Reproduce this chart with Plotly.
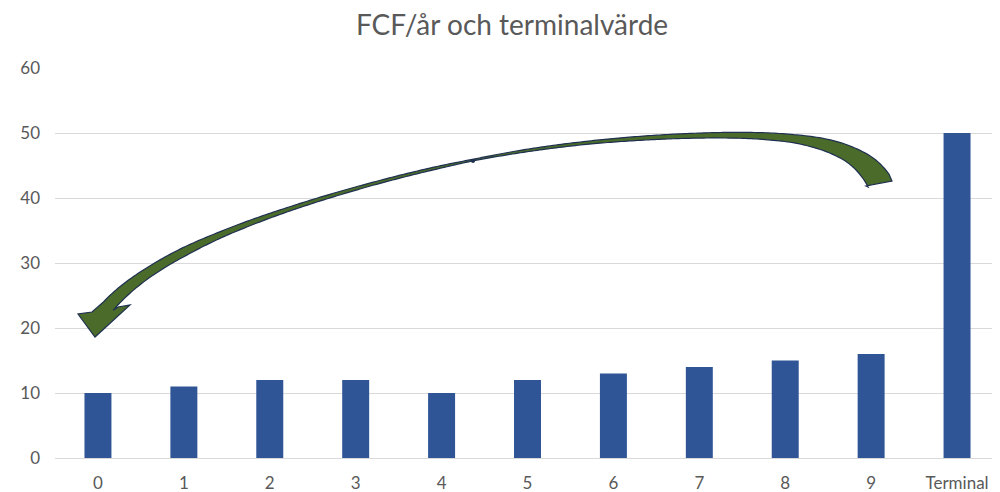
import numpy as np
import plotly.graph_objects as go

categories = ["0", "1", "2", "3", "4", "5", "6", "7", "8", "9", "Terminal"]
fcf_values = [10, 11, 12, 12, 10, 12, 13, 14, 15, 16, 50]
y_ticks = [0, 10, 20, 30, 40, 50, 60]
title_text = "FCF/år och terminalvärde"

OFF = 8  # page body margin of the html page
W, H = 1000 - OFF, 492 - OFF
ML, MR, MT, MB = 55 - OFF, 0, 68 - OFF, 34
PW, PH = W - ML - MR, H - MT - MB

fig = go.Figure()
fig.add_trace(go.Bar(x=categories, y=fcf_values, marker_color="#2f5597",
                     marker_line_width=0, hoverinfo="x+y"))

# decorative curved arrow, geometry in page pixels -> paper coords
arrow_pts = [
    (880, 183, 25), (871, 168, 22), (851, 154, 16), (825, 145, 12), (793, 140, 8),
    (745, 136, 6), (700, 135, 5), (640, 137, 4), (580, 144, 3), (520, 152, 2.5),
    (473, 161, 1.5), (440, 167, 2.5), (370, 183, 3), (290, 210, 4), (220, 234, 6),
    (183, 253, 8.5), (150, 272, 9.5), (119, 294, 12), (105, 310, 13),
]
cx = np.array([p[0] for p in arrow_pts], float)
cy = np.array([p[1] for p in arrow_pts], float)
cw = np.array([p[2] for p in arrow_pts], float)

# smooth centerline: polynomial fit against chord length
s = np.concatenate([[0], np.cumsum(np.hypot(np.diff(cx), np.diff(cy)))])
s /= s[-1]
wts = np.ones_like(s); wts[0] = wts[-1] = 20
px_fit = np.polynomial.Polynomial.fit(s, cx, 7, w=wts)
py_fit = np.polynomial.Polynomial.fit(s, cy, 7, w=wts)
ss = np.linspace(0, 1, 300)
pts = np.stack([px_fit(ss), py_fit(ss)], 1)
ws = np.interp(ss, s, cw)
d = np.stack([px_fit.deriv()(ss), py_fit.deriv()(ss)], 1)
nrm = np.stack([-d[:, 1], d[:, 0]], 1)
nrm /= np.linalg.norm(nrm, axis=1, keepdims=True)
outer = pts + nrm * (ws[:, None] / 2)
inner = pts - nrm * (ws[:, None] / 2)
outer[0] = [892, 181]
inner[0] = [866, 186]
head = np.array([[92, 312], [78, 314], [95, 337], [130, 305], [118, 307]], float)
poly = np.vstack([outer[:-2], head, inner[:-2][::-1]])

def to_paper(p):
    return (p[0] - OFF - ML) / PW, (MT + PH - (p[1] - OFF)) / PH

path = "M " + " L ".join("%.5f,%.5f" % to_paper(p) for p in poly) + " Z"
fig.add_shape(type="path", path=path, xref="paper", yref="paper",
              fillcolor="#4b6b2b", line=dict(color="#1f3050", width=1.2), layer="above")
dot = to_paper((473, 161))
fig.add_shape(type="circle", xref="paper", yref="paper",
              x0=dot[0] - 2 / PW, x1=dot[0] + 2 / PW, y0=dot[1] - 2 / PH, y1=dot[1] + 2 / PH,
              fillcolor="#1f3050", line=dict(width=0), layer="above")

font = "Lato, 'Open Sans', sans-serif"
fig.update_layout(
    width=W, height=H,
    margin=dict(l=ML, r=MR, t=MT, b=MB, pad=0),
    paper_bgcolor="white", plot_bgcolor="white",
    showlegend=False,
    bargap=0.686,
    title=dict(text=title_text, x=(512 - OFF) / W, xref="container", xanchor="center",
               y=1 - (25 - OFF) / H, yref="container", yanchor="middle",
               font=dict(family=font, size=28, color="#595959")),
    font=dict(family=font, size=17, color="#595959"),
)
fig.update_xaxes(showgrid=False, showline=False, ticks="", ticklabelstandoff=13,
                 tickfont=dict(size=17, color="#595959"))
fig.update_yaxes(range=[0, 60], tickvals=y_ticks, showgrid=True, gridcolor="#d9d9d9",
                 gridwidth=1, zeroline=True, zerolinecolor="#d9d9d9", zerolinewidth=1,
                 showline=False, ticks="", ticklabelstandoff=14,
                 tickfont=dict(size=17, color="#595959"))

fig.write_html("out.html")
